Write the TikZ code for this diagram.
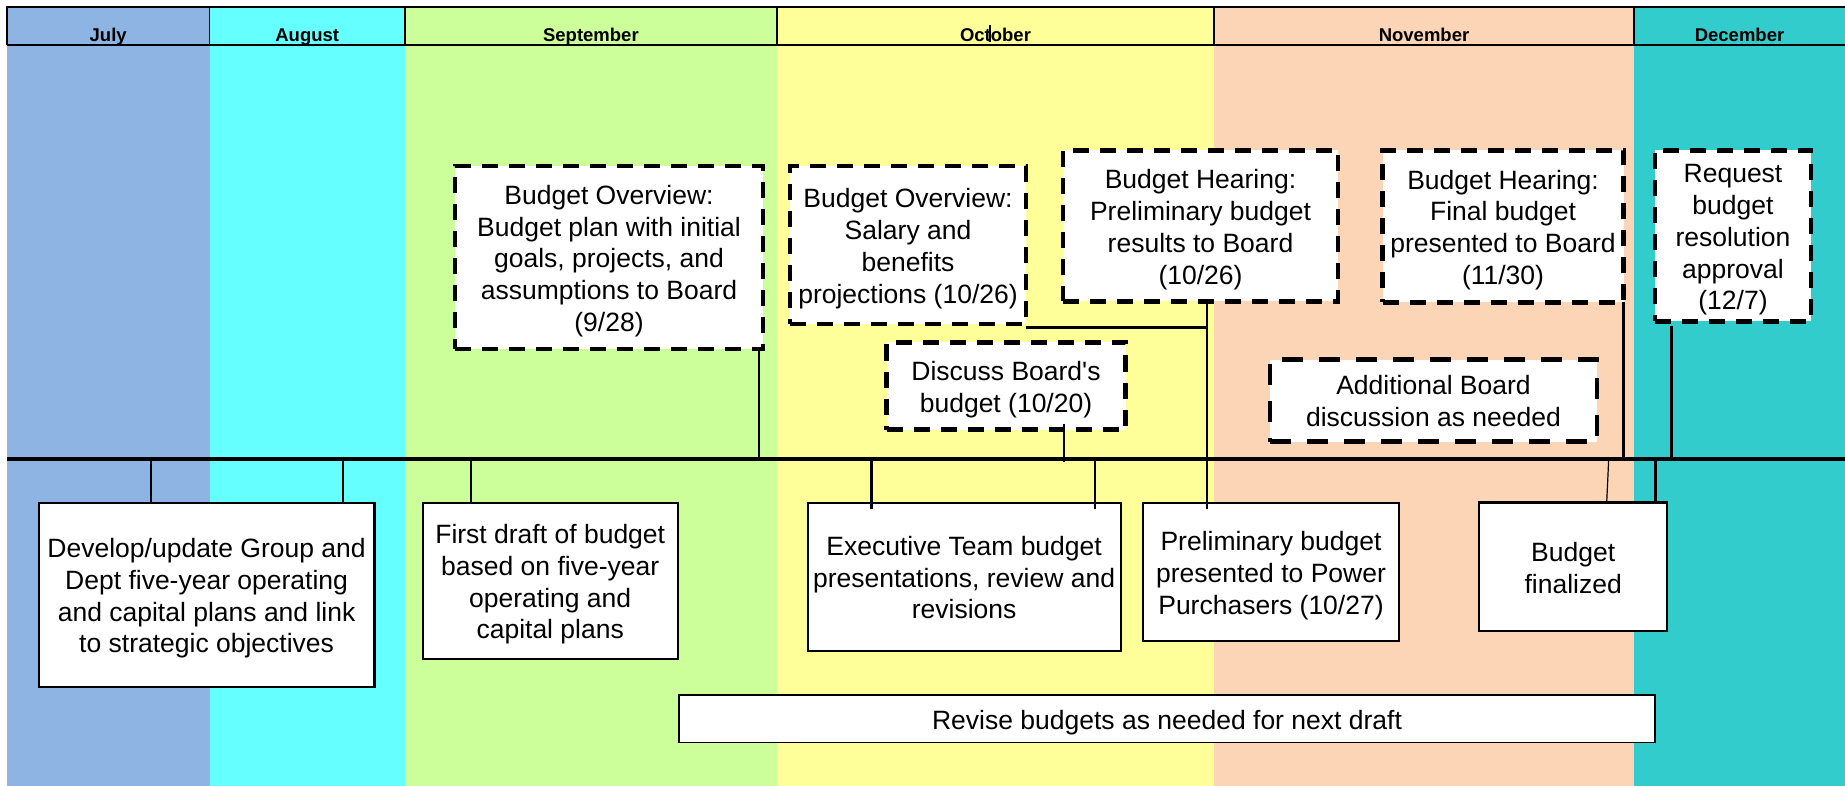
\documentclass[tikz,border=0pt]{standalone}
\usepackage{fontspec}
\setmainfont{Liberation Sans}
\newfontfamily\boxfont{Liberation Sans}
\usetikzlibrary{calc}

\definecolor{julyc}{RGB}{141,180,226}
\definecolor{augc}{RGB}{102,255,255}
\definecolor{sepc}{RGB}{204,255,153}
\definecolor{octc}{RGB}{255,255,153}
\definecolor{novc}{RGB}{251,213,181}
\definecolor{decc}{RGB}{51,204,204}

% centred lines of box text, set slightly below the box centre
\newcommand\boxlines[1]{\raisebox{-4pt}[\height][\depth]{%
  \begin{tabular}{@{}c@{}}#1\end{tabular}}}

\begin{document}
\begin{tikzpicture}[x=1pt,y=-1pt,
  every node/.style={font=\boxfont\fontsize{26.5}{31.8}\selectfont,
    inner sep=0pt, outer sep=0pt},
  dashbox/.style={draw, fill=white, line width=4.5pt, dash pattern=on 16pt off 11pt},
  longdashbox/.style={dashbox, dash pattern=on 21pt off 16pt},
  solidbox/.style={draw, fill=white, line width=2.2pt},
  link/.style={line width=2.5pt},
  thinlink/.style={line width=1.2pt},
  month/.style={font=\boxfont\bfseries\fontsize{18.5}{21}\selectfont, anchor=base},
  hdrline/.style={line width=1.5pt}
]
% canvas
\fill[white] (0,0) rectangle (1845,786);
\useasboundingbox (0,0) rectangle (1845,786);

% month columns
\fill[julyc] (7,7) rectangle (209.5,786);
\fill[augc]  (209.5,7) rectangle (404.8,786);
\fill[sepc]  (404.8,7) rectangle (777,786);
\fill[octc]  (777,7) rectangle (1214,786);
\fill[novc]  (1214,7) rectangle (1634,786);
\fill[decc]  (1634,7) rectangle (1845,786);

% header row
\draw[hdrline] (1845,7) -- (7,7) -- (7,45);
\foreach \xx in {209.5,404.8,777,1214,1634}
  \draw[hdrline] (\xx,7) -- (\xx,45);
\draw[line width=2pt] (7,45) -- (1845,45);
\node[month] (mJul) at (108.2,42) {July};
\node[month] (mAug) at (307.2,42) {August};
\node[month] (mSep) at (590.9,42) {September};
\node[month] (mOct) at (995.5,42) {October};
\node[month] (mNov) at (1424,42) {November};
\node[month] (mDec) at (1739.5,42) {December};
\draw[line width=2.3pt] (990,25) -- (990,42);

% timeline
\coordinate (tlW) at (7,459);
\coordinate (tlE) at (1845,459);
\draw[line width=3.3pt] (tlW) -- (tlE);

% board events above the timeline
\node[dashbox, minimum width=308pt, minimum height=183pt] (A) at (609,257.5)
  {\boxlines{Budget Overview:\\Budget plan with initial\\goals, projects, and\\assumptions to Board\\(9/28)}};
\node[dashbox, minimum width=236pt, minimum height=158pt] (B) at (908,245)
  {\boxlines{Budget Overview:\\Salary and\\benefits\\projections (10/26)}};
\node[dashbox, minimum width=239pt, minimum height=87pt] (C) at (1006,386)
  {\boxlines{Discuss Board's\\budget (10/20)}};
\node[dashbox, minimum width=275pt, minimum height=151pt] (D) at (1200.5,226)
  {\boxlines{Budget Hearing:\\Preliminary budget\\results to Board\\(10/26)}};
\node[dashbox, minimum width=241pt, minimum height=152pt] (E) at (1503,226.5)
  {\boxlines{Budget Hearing:\\Final budget\\presented to Board\\(11/30)}};
\node[dashbox, minimum width=156pt, minimum height=171pt] (F) at (1733,236)
  {\boxlines{Request\\budget\\resolution\\approval\\(12/7)}};
\node[longdashbox, minimum width=327pt, minimum height=82pt] (G) at (1433.5,400.5)
  {\boxlines{Additional Board\\discussion as needed}};

% staff work below the timeline
\node[solidbox, minimum width=335.8pt, minimum height=184.3pt] (Dev) at (206.6,594.85)
  {\boxlines{Develop/update Group and\\Dept five-year operating\\and capital plans and link\\to strategic objectives}};
\node[solidbox, minimum width=255.2pt, minimum height=156.3pt] (First) at (550.2,580.85)
  {\boxlines{First draft of budget\\based on five-year\\operating and\\capital plans}};
\node[solidbox, minimum width=313pt, minimum height=148pt] (Exec) at (964.1,576.7)
  {\boxlines{Executive Team budget\\presentations, review and\\revisions}};
\node[solidbox, minimum width=256pt, minimum height=138.3pt] (Prelim) at (1271,571.85)
  {\boxlines{Preliminary budget\\presented to Power\\Purchasers (10/27)}};
\node[solidbox, minimum width=188.3pt, minimum height=128.5pt] (Final) at (1573.15,566.75)
  {\boxlines{Budget\\finalized}};
\node[solidbox, line width=1.8pt, minimum width=976pt, minimum height=47.5pt] (Revise) at (1167,718.75)
  {\boxlines{Revise budgets as needed for next draft}};

% connector positions along the timeline
\coordinate (xA) at (759,0);
\coordinate (jB) at (1207,327.5);
\coordinate (xC) at (1064,0);
\coordinate (xF) at (1671.5,0);
\coordinate (xDev1) at (151,0);
\coordinate (xDev2) at (343,0);
\coordinate (xFirst) at (471,0);
\coordinate (xExec1) at (871.6,0);
\coordinate (xExec2) at (1095,0);
\coordinate (xFin1) at (1608.7,0);
\coordinate (xFin1b) at (1606.7,0);
\coordinate (xFin2) at (1655.3,0);

% connectors above the timeline
\draw[link] (A.south -| xA) -- (xA |- tlW);
\draw[link] (jB -| B.east) -- (jB);
\draw[link] (D.south -| jB) -- ($(Prelim.north -| jB)+(0,6)$);
\draw[link] ($(C.south -| xC)+(0,-6)$) -- ($(xC |- tlW)+(0,3)$);
\draw[link] (E.south east) -- (E.south east |- tlW);
\draw[link] ($(F.south -| xF)+(0,5)$) -- (xF |- tlW);

% connectors below the timeline
\draw[link] (xDev1 |- tlW) -- (Dev.north -| xDev1);
\draw[link] (xDev2 |- tlW) -- (Dev.north -| xDev2);
\draw[link] (xFirst |- tlW) -- (First.north -| xFirst);
\draw[link] (xExec1 |- tlW) -- ($(Exec.north -| xExec1)+(0,6)$);
\draw[link] (xExec2 |- tlW) -- ($(Exec.north -| xExec2)+(0,6)$);
\draw[thinlink] (xFin1 |- tlW) -- (Final.north -| xFin1b);
\draw[link] (xFin2 |- tlW) -- (Final.north -| xFin2);
\end{tikzpicture}
\end{document}
